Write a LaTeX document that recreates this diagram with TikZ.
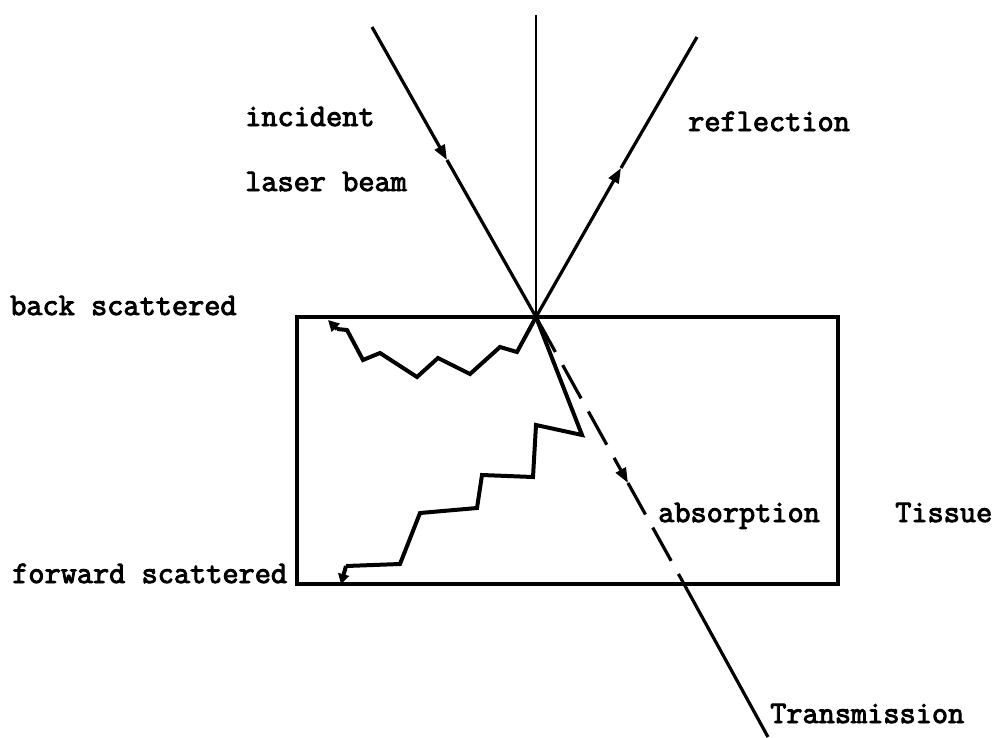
\documentclass[tikz,border=0pt]{standalone}
\usepackage{fontspec}
\usetikzlibrary{arrows.meta}
\newfontfamily\twfont{Latin Modern Mono}[FakeBold=3]
\tikzset{
  lbl/.style={anchor=base west, inner sep=0pt, font=\twfont\fontsize{31.4}{34}\selectfont},
  beam/.style={line width=3.2pt},
  thinbeam/.style={line width=2.2pt},
  zig/.style={line width=4pt, line join=miter},
  tip/.style={-{Triangle[length=15pt,width=11pt]}},
  box/.style={line width=3.2pt}
}
\begin{document}
\begin{tikzpicture}[x=1pt,y=-1pt]
\useasboundingbox (0,0) rectangle (1006,737);
% key points
\coordinate (apex) at (536,317);
\coordinate (top) at (536,15);
\coordinate (incS) at (372,27);
\coordinate (incA) at (447,160);
\coordinate (refE) at (697,37);
\coordinate (refA) at (621,168);
\coordinate (bl) at (297,584);
\coordinate (tr) at (838,317);
\coordinate (dashA) at (628,483);
\coordinate (bottomX) at (684,584);
\coordinate (trE) at (768,737);
% tissue box
\draw[box] (bl) rectangle (tr);
% normal
\draw[thinbeam] (top) -- (apex);
% incident beam
\draw[beam,tip] (incS) -- (incA);
\draw[beam] (incA) -- (apex);
% reflection
\draw[beam,tip] (apex) -- (refA);
\draw[beam] (refA) -- (refE);
% absorption (dashed) and transmission
\draw[beam,dash pattern=on 38pt off 15pt,dash phase=51pt,tip] (apex) -- (dashA);
\draw[beam,dash pattern=on 38pt off 15pt,dash phase=2pt] (dashA) -- (bottomX);
\draw[beam] (bottomX) -- (trE);
% back scattered
\coordinate (b1) at (517,352);
\coordinate (b2) at (500,347);
\coordinate (b3) at (470,374);
\coordinate (b4) at (438,358);
\coordinate (b5) at (417,377);
\coordinate (b6) at (380,353);
\coordinate (b7) at (363,360);
\coordinate (b8) at (347,330);
\coordinate (b9) at (337,329);
\coordinate (bT) at (328,320);
\draw[zig] (apex) -- (b1) -- (b2) -- (b3) -- (b4) -- (b5) -- (b6) -- (b7) -- (b8) -- (b9);
\draw[zig,-{Triangle[length=11pt,width=11pt]}] (b9) -- (bT);
% forward scattered
\coordinate (f1) at (582,435);
\coordinate (f2) at (536,425);
\coordinate (f3) at (533,477);
\coordinate (f4) at (482,475);
\coordinate (f5) at (477,508);
\coordinate (f6) at (420,513);
\coordinate (f7) at (400,564);
\coordinate (f8) at (346,566);
\coordinate (fT) at (341,584);
\draw[zig] (apex) -- (f1) -- (f2) -- (f3) -- (f4) -- (f5) -- (f6) -- (f7) -- (f8);
\draw[zig,-{Triangle[length=10pt,width=11pt]}] (f8) -- (fT);
% labels
\node[lbl] (tinc) at (245,126) {incident};
\node[lbl] (tlas) at (245,191) {laser beam};
\node[lbl] (tref) at (688,131) {reflection};
\node[lbl] (tback) at (10,315) {back scattered};
\node[lbl] (tabs) at (658,522) {absorption};
\node[lbl] (ttis) at (895,522) {Tissue};
\node[lbl] (tfwd) at (12,583) {forward scattered};
\node[lbl] (ttra) at (770,723) {Transmission};
\end{tikzpicture}
\end{document}
